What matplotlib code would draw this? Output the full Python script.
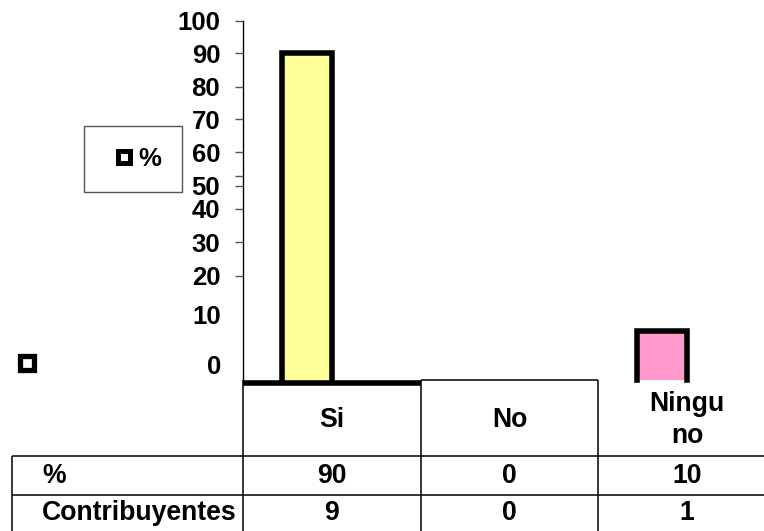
import numpy as np
import matplotlib
matplotlib.use("Agg")
import matplotlib.pyplot as plt
from matplotlib.lines import Line2D
from matplotlib.ticker import FixedLocator, FuncFormatter
from matplotlib.transforms import ScaledTranslation

# ---- data ----
categories = ["Si", "No", "Ningu\nno"]
porcentaje = [90, 0, 10]
contribuyentes = [9, 0, 1]
row_labels = ["%", "Contribuyentes"]
series_label = "%"
y_major = [20, 30, 40, 50, 60, 70, 80, 90, 100]
y_minor = [0, 10]

# ---- style ----
bar_colors = ["#FFFF99", "#FFFFFF", "#FF99CC"]
W, H = 764, 531
FS = 18.5      # axis / legend text
FS_T = 19.2    # table text

plt.rcParams["font.family"] = ["Liberation Sans", "DejaVu Sans"]
plt.rcParams["font.weight"] = "bold"
plt.rcParams["font.size"] = FS

# irregular value axis: value -> height above the base line (px)
knot_vals = np.array([0, 10, 20, 30, 40, 50, 60, 70, 80, 90, 100], float)
knot_pos = np.array([0, 49, 104.3, 137.7, 171, 194.3, 227.7, 260.7, 293.3, 326.7, 359], float)


def _piecewise(x, xs, ys):
    x = np.asarray(x, float)
    y = np.interp(x, xs, ys)
    lo = (ys[1] - ys[0]) / (xs[1] - xs[0])
    hi = (ys[-1] - ys[-2]) / (xs[-1] - xs[-2])
    y = np.where(x < xs[0], ys[0] + (x - xs[0]) * lo, y)
    y = np.where(x > xs[-1], ys[-1] + (x - xs[-1]) * hi, y)
    return y


def fwd(v):
    return _piecewise(v, knot_vals, knot_pos)


def inv(p):
    return _piecewise(p, knot_pos, knot_vals)


fig = plt.figure(figsize=(W / 100, H / 100), dpi=100)

# ---- chart area ----
ax = fig.add_axes([243 / W, 1 - 380 / H, 533 / W, 359 / H])
ax.set_yscale("function", functions=(fwd, inv))
ax.set_xlim(-0.5, 2.5)
ax.set_ylim(0, 100)
for s in ("top", "right", "bottom"):
    ax.spines[s].set_visible(False)
ax.spines["left"].set_linewidth(1.0)
ax.spines["left"].set_color("black")
ax.set_xticks([])

guide_tick = 53
ax.yaxis.set_major_locator(FixedLocator(y_major + [guide_tick]))
ax.yaxis.set_major_formatter(FuncFormatter(lambda v, p: "" if v == guide_tick else f"{v:g}"))
ax.yaxis.set_minor_locator(FixedLocator(y_minor))
ax.yaxis.set_minor_formatter(FuncFormatter(lambda v, p: f"{v:g}"))
ax.tick_params(axis="y", which="major", direction="out", length=5.8, width=1,
               color="#555555", pad=10.6, labelsize=FS)
ax.tick_params(axis="y", which="minor", length=0, pad=15.6, labelsize=FS)
for lbl in ax.get_yticklabels(minor=True):
    lbl.set_transform(lbl.get_transform() + ScaledTranslation(0, 0.16, fig.dpi_scale_trans))

bar_shift = -0.14
bar_x = np.arange(len(categories)) + bar_shift
bars = ax.bar(bar_x, porcentaje, width=0.28, color=bar_colors, edgecolor="none", zorder=2)
for rect in bars:
    h = rect.get_height()
    if h <= 0:
        continue
    x0 = rect.get_x()
    x1 = x0 + rect.get_width()
    ax.plot([x0, x0, x1, x1], [0, h, h, 0], color="black", lw=4,
            solid_joinstyle="miter", clip_on=False, zorder=3)

# ---- data table ----
tax = fig.add_axes([12 / W, 1 - 534 / H, 764 / W, 154 / H])
tax.set_xlim(-1.8, 2.5)
tax.set_ylim(154, 0)
tax.axis("off")
row_edges = [76, 115, 154]
lw_t = 1.1
kw = dict(color="black", clip_on=False, solid_capstyle="butt")
tax.plot([-0.5, 0.5], [2.5, 2.5], lw=4, **kw)
tax.plot([0.5, 1.5], [0, 0], lw=lw_t, **kw)
for xv in (-0.5, 0.5, 1.5):
    tax.plot([xv, xv], [0, 154], lw=lw_t, **kw)
tax.plot([-1.8, -1.8], [row_edges[0], 154], lw=lw_t, **kw)
for yv in row_edges[:2]:
    tax.plot([-1.8, 2.5], [yv, yv], lw=lw_t, **kw)

for i, cat in enumerate(categories):
    tax.text(i, 39.5, cat, ha="center", va="center", fontsize=FS_T,
             fontweight="bold", linespacing=1.3)
    tax.text(i, 96, f"{porcentaje[i]:g}", ha="center", va="center", fontsize=FS_T, fontweight="bold")
    tax.text(i, 133, f"{contribuyentes[i]:g}", ha="center", va="center", fontsize=FS_T, fontweight="bold")
label_x = -1.631
tax.text(label_x, 96, row_labels[0], ha="left", va="center", fontsize=FS_T, fontweight="bold")
tax.text(label_x, 133, row_labels[1], ha="left", va="center", fontsize=FS_T, fontweight="bold")

# ---- legend ----
handle = Line2D([], [], ls="none", marker="s", ms=8.4, mew=3.6,
                mfc="white", mec="black")
leg = fig.legend(handles=[handle], labels=[series_label], loc="upper left",
                 bbox_to_anchor=(84 / W, 1 - 126 / H), borderaxespad=0,
                 frameon=True, fancybox=False, edgecolor="#555555", framealpha=1,
                 borderpad=0.82, handlelength=1.45, handletextpad=-0.16,
                 prop=dict(size=FS, weight="bold"))
leg.get_frame().set_linewidth(1.0)

# series key beside the table
fig.add_artist(Line2D([27 / W], [1 - 362.5 / H], transform=fig.transFigure,
                      ls="none", marker="s", ms=9.8, mew=3.8,
                      mfc="white", mec="black"))

fig.savefig("out.png", dpi=100)
